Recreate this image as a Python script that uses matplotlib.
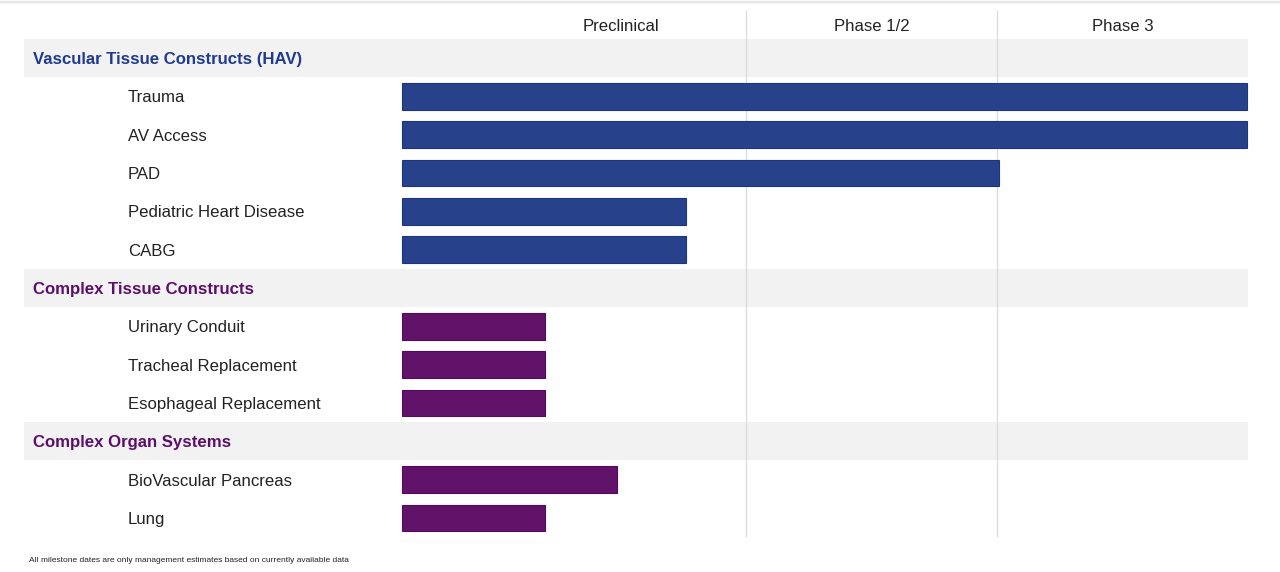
import matplotlib.pyplot as plt
import numpy as np

plt.rcParams['font.family'] = ['Liberation Sans', 'DejaVu Sans']

# pipeline stages (column widths in arbitrary progress units)
stages = ["Preclinical", "Phase 1/2", "Phase 3"]
stage_edges = [0, 344, 595, 846]
stage_label_x = [219, 470, 721]

# rows: (label, is_group_header, group)
rows = [
    ("Vascular Tissue Constructs (HAV)", True, "vasc"),
    ("Trauma", False, "vasc"),
    ("AV Access", False, "vasc"),
    ("PAD", False, "vasc"),
    ("Pediatric Heart Disease", False, "vasc"),
    ("CABG", False, "vasc"),
    ("Complex Tissue Constructs", True, "tissue"),
    ("Urinary Conduit", False, "tissue"),
    ("Tracheal Replacement", False, "tissue"),
    ("Esophageal Replacement", False, "tissue"),
    ("Complex Organ Systems", True, "organ"),
    ("BioVascular Pancreas", False, "organ"),
    ("Lung", False, "organ"),
]
# progress reached by each program
progress = {
    "Trauma": 845, "AV Access": 845, "PAD": 597,
    "Pediatric Heart Disease": 284, "CABG": 284,
    "Urinary Conduit": 143, "Tracheal Replacement": 143,
    "Esophageal Replacement": 143,
    "BioVascular Pancreas": 215, "Lung": 143,
}

bar_colors = {"vasc": "#27418a", "tissue": "#601368", "organ": "#601368"}
edge_colors = {"vasc": "#1c3580", "tissue": "#520a5c", "organ": "#520a5c"}
head_colors = {"vasc": "#1f3a8f", "tissue": "#5c0f6a", "organ": "#5c0f6a"}

fig = plt.figure(figsize=(12.8, 5.72), dpi=100)
ax = fig.add_axes([0, 0, 1, 1])
ax.set_xlim(-402, 878)
row_h = 38.33
ax.set_ylim((572 - 58) / row_h, -58 / row_h)
ax.axis("off")

# faint top shadow
for i, a in enumerate([0.10, 0.06, 0.03]):
    ax.axhline(-58 / row_h + (i + 0.5) / row_h, color="black", alpha=a, lw=1)

text_dy = 1.5 / row_h

# group header bands
for i, (label, is_head, grp) in enumerate(rows):
    if is_head:
        ax.barh(i, 846 + 378, left=-378, height=1.0, color="#f2f2f2", zorder=0)
        ax.text(-369, i + text_dy, label, fontsize=12.1, fontweight="bold",
                color=head_colors[grp], va="center", ha="left", zorder=3)
    else:
        ax.text(-274, i + text_dy, label, fontsize=12.1, color="#222222",
                va="center", ha="left", zorder=3)
        ax.barh(i, progress[label], left=0, height=0.70,
                color=bar_colors[grp], edgecolor=edge_colors[grp],
                linewidth=0.8, zorder=2)

# stage separators
for x in stage_edges[1:3]:
    ax.vlines(x, -48 / row_h, 479 / row_h, color="#dddddd", lw=1, zorder=1)

for name, x in zip(stages, stage_label_x):
    ax.text(x, -33 / row_h + text_dy, name, fontsize=12.1, color="#222222",
            ha="center", va="center")

fig.text(29 / 1280, 1 - 561 / 572, "All milestone dates are only management "
         "estimates based on currently available data",
         fontsize=6.0, color="#222222", va="center", ha="left")

fig.savefig("out.png", dpi=100)
